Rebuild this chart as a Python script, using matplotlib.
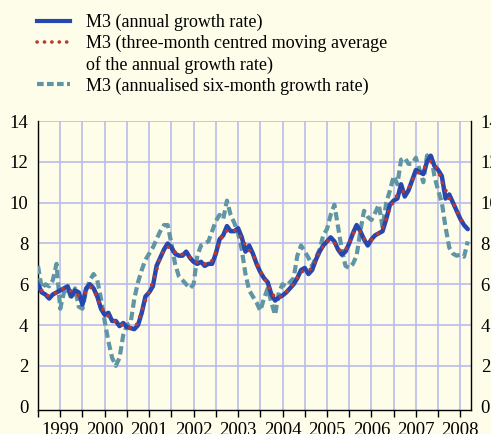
import numpy as np
import pandas as pd
import matplotlib
matplotlib.use("Agg")
import matplotlib.pyplot as plt
from matplotlib.lines import Line2D

# ---- data (monthly, Jan 1999 - Sep 2008) ----
months = pd.date_range("1999-01-01", "2008-09-01", freq="MS")

annual = [6.0, 5.6, 5.5, 5.3, 5.5, 5.6, 5.7, 5.8, 5.9, 5.4, 5.7, 5.6,
          5.0, 5.8, 6.0, 5.8, 5.4, 4.8, 4.5, 4.6, 4.2, 4.2, 3.95, 4.1,
          3.9, 3.85, 3.8, 4.0, 4.6, 5.4, 5.6, 5.9, 6.9, 7.3, 7.7, 8.0,
          7.8, 7.5, 7.4, 7.4, 7.6, 7.3, 7.1, 7.0, 7.1, 6.9, 7.0, 7.0,
          7.5, 8.2, 8.4, 8.85, 8.6, 8.6, 8.75, 8.3, 7.6, 7.9, 7.5, 7.0,
          6.6, 6.3, 6.1, 5.5, 5.2, 5.35, 5.45, 5.6, 5.8, 6.0, 6.3, 6.7,
          6.8, 6.5, 6.7, 7.2, 7.6, 7.9, 8.1, 8.3, 8.1, 7.7, 7.45, 7.6,
          8.0, 8.5, 8.9, 8.6, 8.2, 7.9, 8.2, 8.4, 8.5, 8.6, 9.2, 9.9,
          10.1, 10.2, 10.9, 10.3, 10.6, 11.1, 11.6, 11.5, 11.4, 12.0, 12.3, 11.8,
          11.6, 11.3, 10.2, 10.4, 10.0, 9.6, 9.2, 8.9, 8.7]

centred = [np.nan, 5.7, 5.47, 5.43, 5.47, 5.6, 5.7, 5.8, 5.7, 5.67, 5.57, 5.43,
           5.47, 5.6, 5.87, 5.73, 5.33, 4.9, 4.63, 4.43, 4.33, 4.12, 4.08, 3.98,
           3.95, 3.85, 3.88, 4.13, 4.67, 5.2, 5.63, 6.13, 6.7, 7.3, 7.67, 7.83,
           7.77, 7.57, 7.43, 7.47, 7.43, 7.33, 7.13, 7.07, 7.0, 7.0, 6.97, 7.17,
           7.57, 8.03, 8.48, 8.62, 8.68, 8.65, 8.55, 8.22, 7.93, 7.67, 7.47, 7.03,
           6.63, 6.33, 5.97, 5.6, 5.35, 5.33, 5.47, 5.62, 5.8, 6.03, 6.33, 6.6,
           6.67, 6.67, 6.8, 7.17, 7.57, 7.87, 8.1, 8.17, 8.03, 7.75, 7.58, 7.68,
           8.03, 8.47, 8.67, 8.57, 8.23, 8.1, 8.17, 8.37, 8.5, 8.77, 9.23, 9.73,
           10.07, 10.4, 10.47, 10.6, 10.67, 11.1, 11.4, 11.5, 11.63, 11.9, 12.03, 11.9,
           11.57, 11.03, 10.63, 10.2, 10.0, 9.6, 9.23, 8.93, np.nan]

sixmonth = [6.9, 5.8, 6.0, 5.9, 6.2, 7.0, 4.8, 5.6, 5.8, 5.3, 5.8, 4.9,
            4.8, 5.7, 6.2, 6.5, 6.2, 5.3, 4.2, 3.2, 2.4, 2.0, 2.4, 3.5,
            4.0, 4.1, 5.3, 6.1, 6.7, 7.2, 7.5, 7.8, 8.2, 8.6, 8.9, 8.9,
            8.0, 7.0, 6.4, 6.2, 6.0, 5.8, 6.0, 7.4, 7.9, 8.0, 8.1, 8.6,
            9.1, 9.4, 9.2, 10.1, 9.4, 9.0, 8.5, 7.7, 6.5, 5.7, 5.4, 5.1,
            4.7, 5.3, 5.8, 5.1, 4.5, 5.6, 6.0, 5.9, 6.1, 6.3, 7.4, 7.9,
            7.6, 7.3, 6.9, 7.3, 7.7, 8.4, 8.7, 9.4, 9.9, 8.8, 7.7, 6.9,
            6.8, 7.0, 7.4, 8.6, 9.6, 9.3, 9.15, 9.5, 9.9, 8.8, 10.0, 10.6,
            11.3, 10.9, 12.1, 12.2, 11.9, 11.9, 12.2, 11.6, 11.0, 12.3, 12.4, 11.3,
            10.6, 10.0, 8.8, 7.8, 7.5, 7.4, 7.45, 7.35, 8.1]

year_labels = [str(y) for y in range(1999, 2009)]
y_ticks = list(range(0, 15, 2))

labels = ["M3 (annual growth rate)",
          "M3 (three-month centred moving average",
          "of the annual growth rate)",
          "M3 (annualised six-month growth rate)"]

# ---- style ----
BG = "#FEFDE9"
GRID = "#B9BDEB"
BLUE = "#2747B0"
RED = "#BC3A2C"
TEAL = "#6095A6"
DOT = (0, (0.05, 2.3))
DASH = (0, (2.0, 1.0))

plt.rcParams["font.family"] = ["Liberation Serif", "DejaVu Serif"]

fig = plt.figure(figsize=(4.91, 4.34), dpi=100, facecolor=BG)
ax = fig.add_axes([38 / 491, (434 - 410) / 434, (471 - 38) / 491, (410 - 121) / 434])
ax.set_facecolor(BG)

x = months.year + (months.month - 1) / 12.0

ax.plot(x, sixmonth, color=TEAL, lw=3.0, ls=DASH, zorder=3)
ax.plot(x, annual, color=BLUE, lw=3.2, solid_capstyle="round", zorder=4)
ax.plot(x, centred, color=RED, lw=2.6, ls=DOT, dash_capstyle="round", zorder=5)

ax.set_xlim(1999.0, 1999.0 + (471 - 37.3) / 44.53)
ax.set_ylim(-3.3 / 20.4, 14)

# y axis
ax.set_yticks(y_ticks)
ax.tick_params(axis="y", which="both", length=0, labelsize=13.5, pad=7,
               left=True, right=True, labelleft=True, labelright=True)

# x axis: half-year tick marks, year labels at mid-year
ax.xaxis.remove_overlapping_locs = False
half_years = [1999 + 0.5 * i for i in range(20)]
ax.set_xticks(half_years)
ax.set_xticklabels([])
ax.set_xticks([1999.5 + i for i in range(len(year_labels))], minor=True)
ax.set_xticklabels(year_labels, minor=True)
ax.tick_params(axis="x", which="major", direction="out", length=5, width=1.0,
               color="black")
ax.tick_params(axis="x", which="minor", length=0, pad=8.5, labelsize=13.5)

# grid
for v in y_ticks[1:]:
    ax.axhline(v, color=GRID, lw=1.2, zorder=1)
for v in half_years[1:]:
    ax.axvline(v, color=GRID, lw=1.2, zorder=1)

for s in ["left", "right", "bottom"]:
    ax.spines[s].set_color("black")
    ax.spines[s].set_linewidth(1.0)
ax.spines["top"].set_visible(False)

# legend
handles = [Line2D([], [], color=BLUE, lw=3.0),
           Line2D([], [], color=RED, lw=2.6, ls=(0, (0.05, 2.0)), dash_capstyle="round"),
           Line2D([], [], color="none", lw=0),
           Line2D([], [], color=TEAL, lw=3.0, ls=(0, (1.6, 0.8)))]
leg = fig.legend(handles, labels, loc="upper left",
                 bbox_to_anchor=(37 / 491, 1 - 14 / 434),
                 frameon=False, fontsize=13, handlelength=1.85,
                 handletextpad=0.85, labelspacing=0.2, borderpad=0,
                 borderaxespad=0)

fig.savefig("out.png", dpi=100, facecolor=BG)
